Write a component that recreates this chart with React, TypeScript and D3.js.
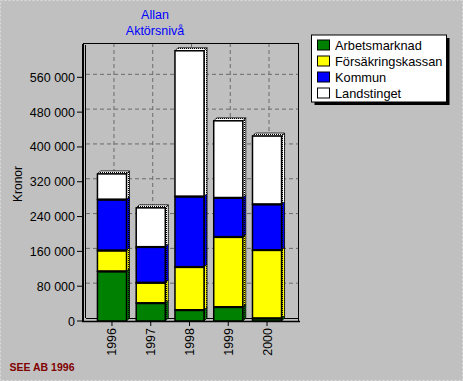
import React from "react";
import * as d3 from "d3";

const years = ["1996", "1997", "1998", "1999", "2000"];
const seriesNames = ["Arbetsmarknad", "Försäkringskassan", "Kommun", "Landstinget"];
const seriesColors = ["#008000", "#ffff00", "#0000ff", "#ffffff"];
const arbetsmarknad = [114000, 41000, 25000, 32000, 6000];
const forsakringskassan = [48000, 47000, 99000, 161000, 157000];
const kommun = [117000, 82000, 162000, 90000, 105000];
const landstinget = [59000, 90000, 335000, 177000, 157000];
const yTicks = [0, 80000, 160000, 240000, 320000, 400000, 480000, 560000];
const titleLines = ["Allan", "Aktörsnivå"];
const yLabel = "Kronor";
const footer = "SEE AB 1996";

const W = 463, H = 381;
const FONT = "'Liberation Sans', Arial, sans-serif";
const D = 3;

export default function App() {
  const x = d3.scaleBand<string>().domain(years).range([92.6, 286.4]).paddingInner(0.25).paddingOuter(0.125);
  const y = d3.scaleLinear().domain([0, 640000]).range([321, 42.5]);
  const table = years.map((yr, i) => ({
    year: yr,
    Arbetsmarknad: arbetsmarknad[i],
    "Försäkringskassan": forsakringskassan[i],
    Kommun: kommun[i],
    Landstinget: landstinget[i],
  }));
  const stack = d3.stack<any>().keys(seriesNames)(table);
  const bw = x.bandwidth();
  const fmt = (v: number) => d3.format(",")(v).replace(/,/g, " ");

  return (
    <svg width={W} height={H} style={{ position: "fixed", left: 0, top: 0, display: "block" }} fontFamily={FONT}>
      <defs>
        {seriesColors.map((c, i) => (
          <pattern key={i} id={`dith${i}`} width={2} height={2} patternUnits="userSpaceOnUse">
            <rect width={2} height={2} fill={c} />
            <rect width={1} height={1} fill="#000" />
          </pattern>
        ))}
      </defs>
      <rect width={W} height={H} fill="#c0c0c0" />
      <rect x={0.5} y={0.5} width={W - 1} height={H - 1} fill="none" stroke="#dcdcdc" strokeDasharray="2,2" />

      {/* Title */}
      {titleLines.map((t, i) => (
        <text key={i} x={155} y={19 + i * 15.5} textAnchor="middle" fontSize={12.5} fill="#0000ff">{t}</text>
      ))}

      {/* back wall gridlines */}
      {yTicks.slice(1).map((t) => (
        <line key={t} x1={86} x2={298} y1={y(t) - D} y2={y(t) - D} stroke="#6a6a6a" strokeDasharray="4,3" />
      ))}
      {years.map((yr) => (
        <line key={yr} x1={x(yr)! + bw / 2 + 2} x2={x(yr)! + bw / 2 + 2} y1={43} y2={318} stroke="#6a6a6a" strokeDasharray="4,3" />
      ))}

      {/* frame */}
      <line x1={83} x2={298.5} y1={43.5} y2={43.5} stroke="#000" />
      <line x1={298.5} x2={298.5} y1={43} y2={321} stroke="#000" />
      <line x1={86} x2={298} y1={318.5} y2={318.5} stroke="#000" />
      <line x1={85.5} x2={85.5} y1={45} y2={318} stroke="#000" />
      <line x1={83} x2={83} y1={44} y2={322} stroke="#000" strokeWidth={2} />
      <line x1={82} x2={300} y1={321.5} y2={321.5} stroke="#000" strokeWidth={1.5} />

      {/* y ticks */}
      {yTicks.map((t) => (
        <g key={t}>
          <line x1={77} x2={82} y1={y(t)} y2={y(t)} stroke="#000" />
          <text x={75} y={y(t) + 4.5} textAnchor="end" fontSize={12.5} fill="#000">{fmt(t)}</text>
        </g>
      ))}
      <text transform={`translate(22,184) rotate(-90)`} textAnchor="middle" fontSize={12} fill="#000">{yLabel}</text>

      {/* bars */}
      {stack.map((s, si) => (
        <g key={s.key}>
          {s.map((dd: any, i: number) => {
            const x0 = x(years[i])!;
            const yTop = y(dd[1]);
            const yBot = y(dd[0]);
            const isTop = si === stack.length - 1;
            return (
              <g key={i}>
                <polygon
                  points={`${x0 + bw},${yBot} ${x0 + bw + D},${yBot - D} ${x0 + bw + D},${yTop - D} ${x0 + bw},${yTop}`}
                  fill={`url(#dith${si})`} stroke="#000" strokeWidth={0.8}
                />
                {isTop && (
                  <polygon
                    points={`${x0},${yTop} ${x0 + D},${yTop - D} ${x0 + bw + D},${yTop - D} ${x0 + bw},${yTop}`}
                    fill={`url(#dith${si})`} stroke="#000" strokeWidth={0.8}
                  />
                )}
                <rect x={x0} y={yTop} width={bw} height={yBot - yTop} fill={seriesColors[si]} stroke="#000" strokeWidth={1.5} />
                {si > 0 && <line x1={x0} x2={x0 + bw} y1={yBot} y2={yBot} stroke="#000" strokeWidth={2.2} />}
              </g>
            );
          })}
        </g>
      ))}

      {/* x ticks and labels */}
      {years.map((yr) => {
        const cx = x(yr)! + bw / 2;
        return (
          <g key={yr}>
            <line x1={cx} x2={cx} y1={322} y2={326} stroke="#000" />
            <text transform={`translate(${cx + 4.5},328) rotate(-90)`} textAnchor="end" fontSize={12.5} fill="#000">{yr}</text>
          </g>
        );
      })}

      {/* legend */}
      <rect x={314.5} y={38} width={135} height={67} fill="#000" />
      <rect x={311.5} y={35} width={135} height={67} fill="#fff" stroke="#000" />
      {seriesNames.map((n, i) => {
        const base = 49.5 + i * 16;
        return (
          <g key={n}>
            <rect x={317.5} y={base - 9.5} width={12} height={10} fill={seriesColors[i]} stroke="#000" />
            <text x={335} y={base} fontSize={12.8} fill="#000">{n}</text>
          </g>
        );
      })}

      <text x={9.5} y={370.5} fontSize={10.5} fontWeight="bold" fill="#800000">{footer}</text>
    </svg>
  );
}
